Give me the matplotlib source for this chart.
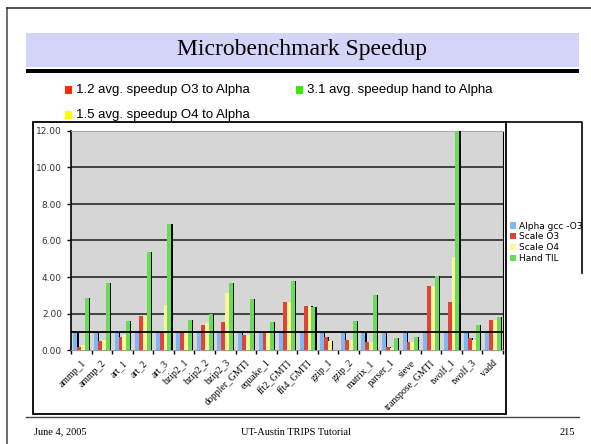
import numpy as np
import matplotlib.pyplot as plt
from matplotlib.patches import Rectangle
from matplotlib.lines import Line2D

benchmarks = ['ammp_1', 'ammp_2', 'art_1', 'art_2', 'art_3', 'bzip2_1', 'bzip2_2',
              'bzip2_3', 'doppler_GMTI', 'equake_1', 'fft2_GMTI', 'fft4_GMTI',
              'gzip_1', 'gzip_2', 'matrix_1', 'parser_1', 'sieve', 'transpose_GMTI',
              'twolf_1', 'twolf_3', 'vadd']

alpha_o3 = [1.0] * len(benchmarks)
scale_o3 = [0.18, 0.50, 0.73, 1.89, 0.93, 0.98, 1.35, 1.55, 0.80, 0.93, 2.64, 2.42,
            0.73, 0.56, 0.45, 0.18, 0.45, 3.50, 2.64, 0.67, 1.65]
scale_o4 = [0.25, 0.56, 0.80, 1.89, 2.47, 0.98, 1.49, 3.13, 0.80, 0.93, 2.64, 2.42,
            0.49, 0.56, 0.45, 0.13, 0.45, 3.50, 5.10, 0.56, 1.65]
hand_til = [2.85, 3.67, 1.60, 5.36, 6.90, 1.65, 1.98, 3.67, 2.80, 1.55, 3.78, 2.35,
            0.00, 1.60, 3.00, 0.65, 0.73, 4.05, 12.00, 1.38, 1.82]

series_names = ['Alpha gcc -O3', 'Scale O3', 'Scale O4', 'Hand TIL']
series_colors = ['#7fb6f5', '#e04438', '#fff59a', '#66dd55']

summary_text = ['1.2 avg. speedup O3 to Alpha', '3.1 avg. speedup hand to Alpha',
                '1.5 avg. speedup O4 to Alpha']
summary_colors = ['#ff2a00', '#33ee00', '#ffff00']

W, H = 591, 444
fig = plt.figure(figsize=(W / 100, H / 100), dpi=100)

def fx(px):
    return px / W

def fy(py):
    return 1 - py / H

# slide border, title bar and rule
fig.add_artist(Line2D([fx(7), fx(7)], [fy(8), fy(444)], color='#555555', lw=1.2))
fig.add_artist(Line2D([fx(7), fx(591)], [fy(8), fy(8)], color='#333333', lw=1.2))
fig.add_artist(Rectangle((fx(26), fy(67)), fx(553), 34 / H, color='#d4d4f8', lw=0))
fig.add_artist(Rectangle((fx(26), fy(73)), fx(553), 4 / H, color='black', lw=0))
fig.text(fx(302), fy(50), 'Microbenchmark Speedup', family='Liberation Serif',
         fontsize=17, ha='center', va='center')

# summary bullets
pos = [(73, 90), (304, 90), (73, 115)]
for (x, y), txt, col in zip(pos, summary_text, summary_colors):
    fig.add_artist(Rectangle((fx(x - 8), fy(y + 4)), 7 / W, 8 / H, color=col, lw=0))
    fig.text(fx(x + 3), fy(y), txt, family='Liberation Sans', fontsize=9.5,
             ha='left', va='center')

# chart frame and legend box edge
fig.add_artist(Rectangle((fx(33), fy(414)), fx(473), 292 / H, fill=False,
                         ec='black', lw=1.3))
fig.add_artist(Line2D([fx(506), fx(582), fx(582)], [fy(122), fy(122), fy(273)],
                      color='black', lw=1.2))

# footer
fig.add_artist(Line2D([fx(26), fx(579)], [fy(417), fy(417)], color='#444444', lw=1))
fig.text(fx(34), fy(432), 'June 4, 2005', family='Liberation Serif', fontsize=7.5, va='center')
fig.text(fx(296), fy(432), 'UT-Austin TRIPS Tutorial', family='Liberation Serif',
         fontsize=7.5, ha='center', va='center')
fig.text(fx(575), fy(432), '215', family='Liberation Serif', fontsize=7.5,
         ha='right', va='center')

ax = fig.add_axes([fx(71), fy(350), fx(503 - 71), (350 - 131) / H])
ax.set_facecolor('#d6d6d6')

x = np.arange(len(benchmarks))
bw = 0.19
all_series = [alpha_o3, scale_o3, scale_o4, hand_til]
for i, (vals, name, col) in enumerate(zip(all_series, series_names, series_colors)):
    pos_x = x + (i - 1.5) * bw
    # thin drop shadow on the right edge of each bar
    ax.bar(pos_x + 0.06, vals, bw, color='black', zorder=2 + i * 2)
    ax.bar(pos_x, vals, bw, color=col, label=name, zorder=3 + i * 2)

ax.set_xlim(-0.5, len(benchmarks) - 0.5)
ax.set_ylim(0, 12)
ax.set_yticks(np.arange(0, 13, 2))
ax.set_yticklabels([f'{v:.2f}' for v in np.arange(0, 13, 2)],
                   fontsize=6.5, color='#333333')
for v in np.arange(2, 13, 2):
    ax.axhline(v, color='#1a1a1a', lw=1.1, zorder=1)
ax.axhline(1.0, color='black', lw=1.3, zorder=20)

ax.set_xticks(x)
ax.set_xticklabels(benchmarks, rotation=45, ha='right', rotation_mode='anchor',
                   family='Liberation Serif', fontsize=7)
ax.set_xticks(np.arange(-0.5, len(benchmarks)), minor=True)
ax.tick_params(axis='x', which='major', length=0, pad=6)
ax.tick_params(axis='x', which='minor', length=3, width=1)
ax.tick_params(axis='y', length=3, width=1)
ax.spines['left'].set_color('black')
ax.spines['left'].set_linewidth(1.2)
ax.spines['bottom'].set_color('#999999')
ax.spines['top'].set_color('#aaaaaa')
ax.spines['right'].set_color('black')

handles, labels = ax.get_legend_handles_labels()
fig.legend(handles, labels, loc='upper left', bbox_to_anchor=(fx(506), fy(218)),
           fontsize=6.5, frameon=False, handlelength=0.7, handleheight=0.7,
           handletextpad=0.3, labelspacing=0.2, borderaxespad=0)

fig.savefig('out.png', dpi=100)
